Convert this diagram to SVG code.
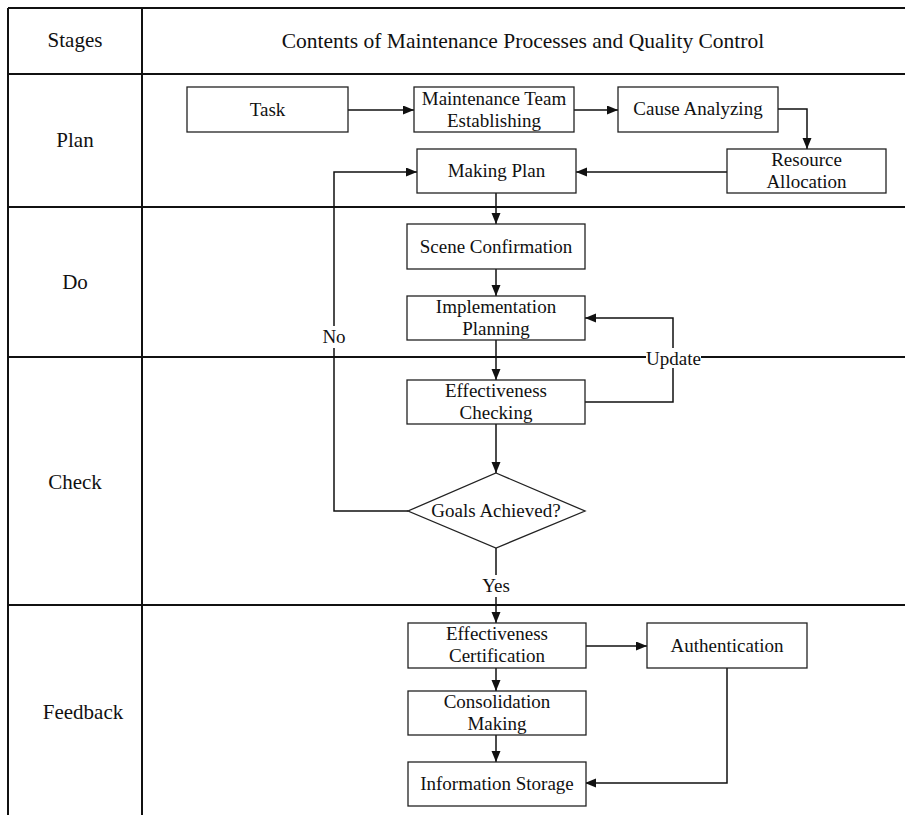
<svg xmlns="http://www.w3.org/2000/svg" width="905" height="815" viewBox="0 0 905 815">
  <style>
    text { font-family: "Liberation Serif", "Times New Roman", serif; fill: #111; text-anchor: middle; }
    .grid { stroke: #111; stroke-width: 2; fill: none; }
    .box { fill: #fff; stroke: #222; stroke-width: 1.3; }
    .node text { font-size: 19px; }
    .stage { font-size: 21px; }
    .head { font-size: 21px; }
    .title { font-size: 21.5px; }
    .edge { fill: none; stroke: #111; stroke-width: 1.5; marker-end: url(#arrow); }
    .lbl { font-size: 19px; }
  </style>
  <defs>
    <marker id="arrow" markerUnits="userSpaceOnUse" markerWidth="12" markerHeight="10" refX="11" refY="4.5" orient="auto">
      <path d="M0,0 L11,4.5 L0,9 z" fill="#111"/>
    </marker>
  </defs>
  <rect width="905" height="815" fill="#fff"/>

  <!-- table frame -->
  <g id="table" class="grid">
    <path d="M8,8 H905 M8,74 H905 M8,207 H905 M8,357 H905 M8,605 H905"/>
    <path d="M8,8 V815 M142,8 V815"/>
  </g>
  <g id="headers">
    <text class="head" x="75" y="47">Stages</text>
    <text class="title" x="523" y="48">Contents of Maintenance Processes and Quality Control</text>
    <text class="stage" x="75" y="147">Plan</text>
    <text class="stage" x="75" y="289">Do</text>
    <text class="stage" x="75" y="489">Check</text>
    <text class="stage" x="83" y="719">Feedback</text>
  </g>

  <!-- connectors -->
  <g id="connectors">
    <path class="edge" d="M348,110 H414"/>
    <path class="edge" d="M574,110 H618"/>
    <path class="edge" d="M778,109 H807 V149"/>
    <path class="edge" d="M727,172 H576"/>
    <path class="edge" d="M496,193 V224"/>
    <path class="edge" d="M496,269 V296"/>
    <path class="edge" d="M496,340 V380"/>
    <path class="edge" d="M585,402 H673 V318 H585"/>
    <path class="edge" d="M496,424 V473"/>
    <path class="edge" d="M408,511 H334 V172 H417"/>
    <path class="edge" d="M496,548 V623"/>
    <path class="edge" d="M586,646 H647"/>
    <path class="edge" d="M496,668 V691"/>
    <path class="edge" d="M496,735 V762"/>
    <path class="edge" d="M727,668 V783 H585"/>
    <rect x="319" y="326" width="30" height="22" fill="#fff"/>
    <text class="lbl" x="334" y="343">No</text>
    <rect x="646" y="348" width="55" height="20" fill="#fff"/>
    <text class="lbl" x="673.5" y="365">Update</text>
    <rect x="479" y="575" width="34" height="22" fill="#fff"/>
    <text class="lbl" x="496" y="592">Yes</text>
  </g>

  <!-- nodes -->
  <g id="task" class="node">
    <rect class="box" x="187" y="87" width="161" height="45"/>
    <text x="267.5" y="116">Task</text>
  </g>
  <g id="team" class="node">
    <rect class="box" x="414" y="87" width="160" height="45"/>
    <text x="494" y="105">Maintenance Team</text>
    <text x="494" y="127">Establishing</text>
  </g>
  <g id="cause" class="node">
    <rect class="box" x="618" y="87" width="160" height="45"/>
    <text x="698" y="115">Cause Analyzing</text>
  </g>
  <g id="resource" class="node">
    <rect class="box" x="727" y="149" width="159" height="44"/>
    <text x="806.5" y="166">Resource</text>
    <text x="806.5" y="188">Allocation</text>
  </g>
  <g id="making-plan" class="node">
    <rect class="box" x="417" y="149" width="159" height="44"/>
    <text x="496.5" y="177">Making Plan</text>
  </g>
  <g id="scene" class="node">
    <rect class="box" x="407" y="224" width="178" height="45"/>
    <text x="496" y="253">Scene Confirmation</text>
  </g>
  <g id="implementation" class="node">
    <rect class="box" x="407" y="296" width="178" height="44"/>
    <text x="496" y="313">Implementation</text>
    <text x="496" y="335">Planning</text>
  </g>
  <g id="checking" class="node">
    <rect class="box" x="407" y="380" width="178" height="44"/>
    <text x="496" y="397">Effectiveness</text>
    <text x="496" y="419">Checking</text>
  </g>
  <g id="goals" class="node">
    <polygon class="box" points="496,473 585,511 496,548 408,511"/>
    <text x="496" y="517">Goals Achieved?</text>
  </g>
  <g id="certification" class="node">
    <rect class="box" x="408" y="623" width="178" height="45"/>
    <text x="497" y="640">Effectiveness</text>
    <text x="497" y="662">Certification</text>
  </g>
  <g id="authentication" class="node">
    <rect class="box" x="647" y="623" width="160" height="45"/>
    <text x="727" y="652">Authentication</text>
  </g>
  <g id="consolidation" class="node">
    <rect class="box" x="408" y="691" width="178" height="44"/>
    <text x="497" y="708">Consolidation</text>
    <text x="497" y="730">Making</text>
  </g>
  <g id="storage" class="node">
    <rect class="box" x="408" y="762" width="178" height="44"/>
    <text x="497" y="790">Information Storage</text>
  </g>
</svg>
